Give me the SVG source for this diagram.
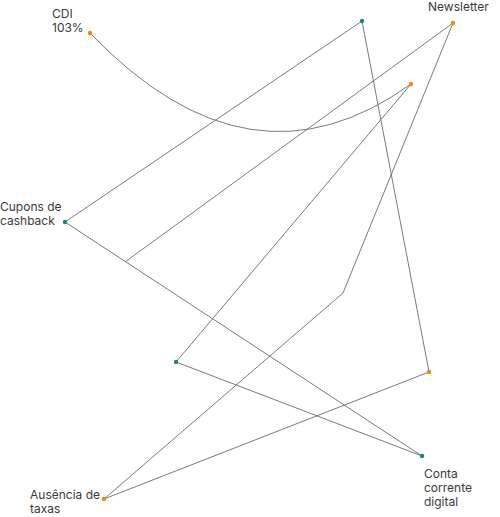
<svg xmlns="http://www.w3.org/2000/svg" width="500" height="517" viewBox="0 0 500 517">
<style>
.e{fill:none;stroke:#7a7a7a;stroke-width:1}
.o{fill:#f7860f}
.t{fill:#16897f}
text{font-family:Inter,"Liberation Sans",sans-serif;font-size:12px;fill:#3a3a3a}
</style>
<rect width="500" height="517" fill="#fff"/>
<g id="connectors">
<path class="e" d="M90,33 Q250,200 411,84"/>
<path class="e" d="M362,21 L65,222"/>
<path class="e" d="M362,21 L429,372"/>
<path class="e" d="M453,23 L125,262"/>
<path class="e" d="M453,23 L343,293 L104,499"/>
<path class="e" d="M411,84 L176,362"/>
<path class="e" d="M176,362 L422,456"/>
<path class="e" d="M65,222 L422,456"/>
<path class="e" d="M429,372 L104,499"/>
</g>
<g id="cdi"><circle class="o" cx="90" cy="33" r="2.2"/><text x="52" y="18">CDI</text><text x="52" y="32">103%</text></g>
<g id="n1"><circle class="t" cx="362" cy="21" r="2.2"/></g>
<g id="newsletter"><circle class="o" cx="453" cy="23" r="2.2"/><text x="428" y="11">Newsletter</text></g>
<g id="n2"><circle class="o" cx="411" cy="84" r="2.2"/></g>
<g id="cupons"><circle class="t" cx="65" cy="222" r="2.2"/><text x="0" y="211">Cupons de</text><text x="0" y="225">cashback</text></g>
<g id="n3"><circle class="t" cx="176" cy="362" r="2.2"/></g>
<g id="n4"><circle class="o" cx="429" cy="372" r="2.2"/></g>
<g id="conta"><circle class="t" cx="422" cy="456" r="2.2"/><text x="424" y="478">Conta</text><text x="424" y="492">corrente</text><text x="424" y="506">digital</text></g>
<g id="ausencia"><circle class="o" cx="104" cy="499" r="2.2"/><text x="30" y="499">Ausência de</text><text x="30" y="513">taxas</text></g>
</svg>
